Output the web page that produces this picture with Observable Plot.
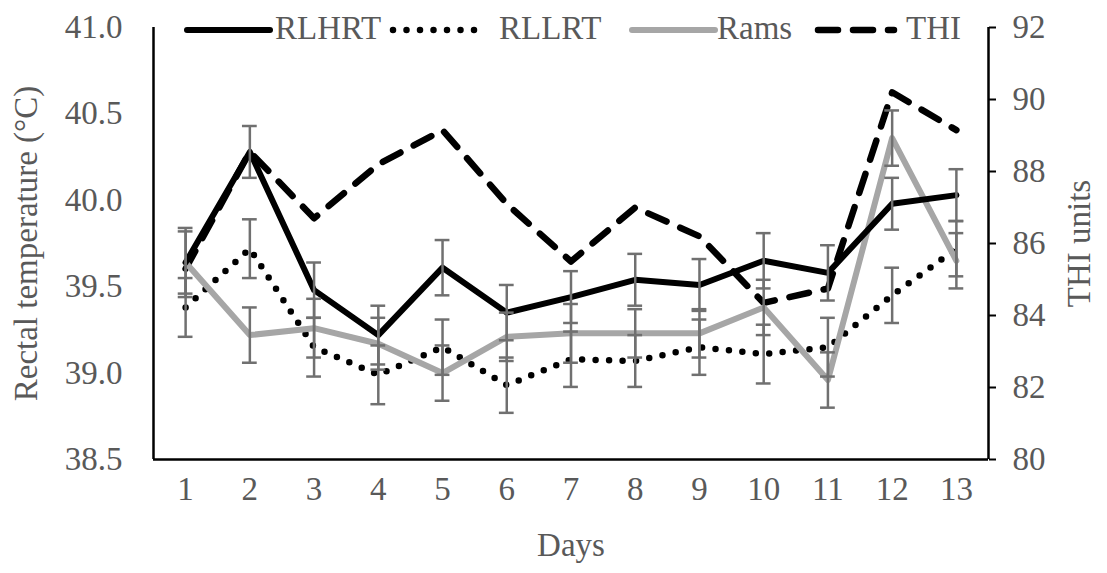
<!DOCTYPE html>
<html>
<head>
<meta charset="utf-8">
<script src="https://cdn.jsdelivr.net/npm/d3@7"></script>
<script src="https://cdn.jsdelivr.net/npm/@observablehq/plot@0.6"></script>
<style>
  html, body { margin: 0; padding: 0; background: #fff; }
  #wrap { position: relative; width: 1107px; height: 573px; font-family: "Liberation Serif", "Times New Roman", serif; }
  .leg { position: absolute; font-size: 33px; color: #595959; line-height: 1; white-space: nowrap; }
  .legsample { position: absolute; }
</style>
</head>
<body>
<div id="wrap"></div>
<script>
// ---- data ----
const days = [1, 2, 3, 4, 5, 6, 7, 8, 9, 10, 11, 12, 13];
const rlhrt   = [39.64, 40.28, 39.48, 39.22, 39.61, 39.35, 39.44, 39.54, 39.51, 39.65, 39.58, 39.98, 40.03];
const rlhrtSE = [0.18, 0.15, 0.16, 0.17, 0.16, 0.16, 0.15, 0.15, 0.15, 0.16, 0.16, 0.15, 0.15];
const rllrt   = [39.38, 39.72, 39.15, 38.99, 39.15, 38.93, 39.08, 39.07, 39.15, 39.11, 39.15, 39.45, 39.72];
const rllrtSE = [0.17, 0.17, 0.17, 0.17, 0.16, 0.16, 0.16, 0.15, 0.16, 0.17, 0.17, 0.16, 0.16];
const rams    = [39.64, 39.22, 39.26, 39.17, 39.00, 39.21, 39.23, 39.23, 39.23, 39.38, 38.96, 40.36, 39.65];
const ramsSE  = [0.20, 0.16, 0.17, 0.15, 0.16, 0.14, 0.17, 0.14, 0.14, 0.16, 0.16, 0.16, 0.16];
const thi     = [85.3, 88.55, 86.7, 88.2, 89.15, 87.1, 85.5, 87.0, 86.2, 84.35, 84.75, 90.2, 89.15];
const leftTicks  = [38.5, 39.0, 39.5, 40.0, 40.5, 41.0];
const rightTicks = [80, 82, 84, 86, 88, 90, 92];
const seriesNames = ["RLHRT", "RLLRT", "Rams", "THI"];

// ---- scales mapping THI onto left axis ----
const L0 = 38.5, L1 = 41.0, R0 = 80, R1 = 92;
const thiToY = v => L0 + (v - R0) * (L1 - L0) / (R1 - R0);
const yToThi = y => R0 + (y - L0) * (R1 - R0) / (L1 - L0);

const mk = (vals, se, name) => days.map((d, i) => ({day: d, v: vals[i], lo: vals[i] - se[i], hi: vals[i] + se[i], name}));
const dH = mk(rlhrt, rlhrtSE, "RLHRT");
const dL = mk(rllrt, rllrtSE, "RLLRT");
const dR = mk(rams, ramsSE, "Rams");
const dT = days.map((d, i) => ({day: d, v: thiToY(thi[i]), name: "THI"}));
const errData = [...dH, ...dL, ...dR];

const styles = {
  RLHRT: {stroke: "#000", strokeWidth: 6, dash: null, cap: "round"},
  RLLRT: {stroke: "#000", strokeWidth: 6.5, dash: "0 13.5", cap: "round"},
  Rams:  {stroke: "#a6a6a6", strokeWidth: 6, dash: null, cap: "round"},
  THI:   {stroke: "#000", strokeWidth: 6.5, dash: "20 15", cap: "round"}
};
const lineOpts = (name) => ({
  x: "day", y: "v", stroke: styles[name].stroke, strokeWidth: styles[name].strokeWidth,
  strokeDasharray: styles[name].dash, strokeLinecap: styles[name].cap, strokeLinejoin: "round"
});
const capHalf = 0.115;
const errColor = "#707070";
const errWidth = 2.5;

const chart = Plot.plot({
  width: 1107,
  height: 573,
  marginLeft: 153,
  marginRight: 119,
  marginTop: 27,
  marginBottom: 114,
  x: {domain: [0.5, 13.5]},
  y: {domain: [L0, L1]},
  style: {fontFamily: "'Liberation Serif', 'Times New Roman', serif", fontSize: "33px", background: "transparent", overflow: "visible"},
  marks: [
    Plot.axisX({ticks: days, tickSize: 0, tickPadding: 17, tickFormat: d => String(d), color: "#595959", fontSize: 33,
      label: "Days", labelAnchor: "center", labelOffset: 96, labelArrow: false}),
    Plot.axisY({ticks: leftTicks, tickSize: 0, tickPadding: 31, tickFormat: d3.format(".1f"), color: "#595959", fontSize: 33,
      label: "Rectal temperature (°C)", labelAnchor: "center", labelOffset: 140, labelArrow: false}),
    Plot.axisY({anchor: "right", ticks: rightTicks.map(thiToY), tickSize: 7, tickPadding: 17,
      tickFormat: d => String(Math.round(yToThi(d))), color: "#595959", stroke: "#000", strokeWidth: 2, fontSize: 33,
      label: "THI units", labelAnchor: "center", labelOffset: 101, labelArrow: false}),
    Plot.ruleX([0.5], {stroke: "#000", strokeWidth: 2.5}),
    Plot.ruleX([13.5], {stroke: "#000", strokeWidth: 2.5}),
    Plot.ruleY([L0], {stroke: "#000", strokeWidth: 2.5}),
    // lines
    Plot.line(dT, lineOpts("THI")),
    Plot.line(dL, lineOpts("RLLRT")),
    Plot.line(dR, lineOpts("Rams")),
    Plot.line(dH, lineOpts("RLHRT")),
    // error bars
    Plot.ruleX(errData, {x: "day", y1: "lo", y2: "hi", stroke: errColor, strokeWidth: errWidth}),
    Plot.ruleY(errData, {y: "hi", x1: d => d.day - capHalf, x2: d => d.day + capHalf, stroke: errColor, strokeWidth: errWidth}),
    Plot.ruleY(errData, {y: "lo", x1: d => d.day - capHalf, x2: d => d.day + capHalf, stroke: errColor, strokeWidth: errWidth})
  ]
});

const wrap = document.getElementById("wrap");
chart.style.position = "absolute";
chart.style.left = "0px";
chart.style.top = "0px";
wrap.appendChild(chart);

// ---- legend (HTML overlay at top of plot area) ----
const legSamples = {RLHRT: [187, 83], RLLRT: [393, 92], Rams: [632, 83], THI: [818, 76]};
const legTextX = {RLHRT: 275, RLLRT: 499, Rams: 717, THI: 906};
for (const name of seriesNames) {
  const s = styles[name];
  const [sx, sw] = legSamples[name];
  const svgNS = "http://www.w3.org/2000/svg";
  const svg = document.createElementNS(svgNS, "svg");
  svg.setAttribute("width", sw + 8);
  svg.setAttribute("height", 16);
  svg.setAttribute("class", "legsample");
  svg.style.left = (sx - 4) + "px";
  svg.style.top = "22px";
  const ln = document.createElementNS(svgNS, "line");
  ln.setAttribute("x1", 4); ln.setAttribute("x2", sw + 4);
  ln.setAttribute("y1", 8); ln.setAttribute("y2", 8);
  ln.setAttribute("stroke", s.stroke);
  ln.setAttribute("stroke-width", s.strokeWidth);
  ln.setAttribute("stroke-linecap", s.cap);
  if (s.dash) ln.setAttribute("stroke-dasharray", s.dash);
  svg.appendChild(ln);
  wrap.appendChild(svg);
  const t = document.createElement("div");
  t.className = "leg";
  t.textContent = name;
  t.style.left = legTextX[name] + "px";
  t.style.top = "12px";
  wrap.appendChild(t);
}
</script>
</body>
</html>
